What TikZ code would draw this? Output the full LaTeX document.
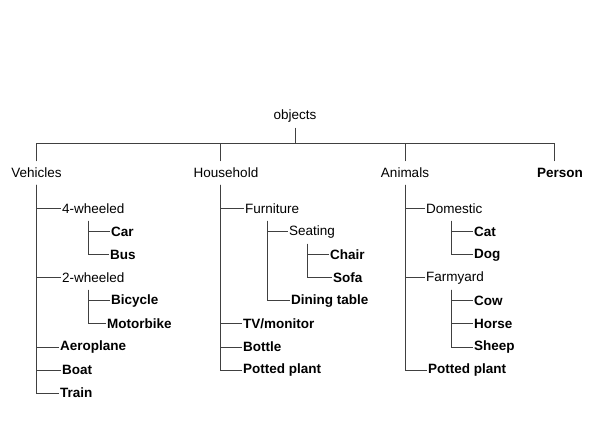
\documentclass[tikz,border=0pt]{standalone}
\usepackage{fontspec}
\setmainfont{Liberation Sans}
\usetikzlibrary{positioning}

\begin{document}
\begin{tikzpicture}[x=1pt, y=-1pt,
          every node/.style={font=\fontsize{13.5}{16}\selectfont, inner sep=1pt,
                             minimum height=23pt},
          grp/.style={anchor=west},
          leaf/.style={anchor=west, font=\fontsize{13.5}{16}\selectfont\bfseries},
          link/.style={draw=black!75, line width=1pt}]
        \useasboundingbox (0,0) rectangle (598,425);
        % top level
        \node (obj) at (295,116) {objects};
        \node (veh) at (36.5,173) {Vehicles};
        \node (hh)  at (226,173) {Household};
        \node (ani) at (405,173) {Animals};
        \node[font=\fontsize{13.5}{16}\selectfont\bfseries] (per) at (560,173) {Person};
        \coordinate (bar) at (295,144);
        \draw[link] (obj.south) -- (bar);
        \draw[link] (veh.north) |- (bar);
        \draw[link] ([xshift=-6pt]per.north) |- (bar);
        \draw[link] ([xshift=-6pt]hh.north) -- ([xshift=-6pt]hh.north |- bar);
        \draw[link] (ani.north) -- (ani.north |- bar);
        % vehicles
        \node[grp]  (fourw) at (61,209)  {4-wheeled};
        \node[leaf] (car)   at (110,232) {Car};
        \node[leaf] (bus)   at (109,255) {Bus};
        \node[grp]  (twow)  at (61,278)  {2-wheeled};
        \node[leaf] (bic)   at (110,301) {Bicycle};
        \node[leaf] (moto)  at (106,324) {Motorbike};
        \node[leaf] (aero)  at (59,347)  {Aeroplane};
        \node[leaf] (boat)  at (61,370)  {Boat};
        \node[leaf] (train) at (59,393)  {Train};
        \foreach \n in {fourw,twow,aero,boat,train}
          \draw[link] (veh.south) |- (\n.west);
        \foreach \n in {car,bus}
          \draw[link] ([xshift=27pt]fourw.south west) |- (\n.west);
        \foreach \n in {bic,moto}
          \draw[link] ([xshift=27pt]twow.south west) |- (\n.west);
        % household
        \node[grp]  (furn)   at (244,209) {Furniture};
        \node[grp]  (seat)   at (288,232) {Seating};
        \node[leaf] (chair)  at (329,255) {Chair};
        \node[leaf] (sofa)   at (332,278) {Sofa};
        \node[leaf] (dining) at (290,301) {Dining table};
        \node[leaf] (tv)     at (242,324) {TV/monitor};
        \node[leaf] (bottle) at (242,347) {Bottle};
        \node[leaf] (plant)  at (242,370) {Potted plant};
        \foreach \n in {furn,tv,bottle,plant}
          \draw[link] ([xshift=-6pt]hh.south) |- (\n.west);
        \foreach \n in {seat,dining}
          \draw[link] ([xshift=23pt]furn.south west) |- (\n.west);
        \foreach \n in {chair,sofa}
          \draw[link] ([xshift=19pt]seat.south west) |- (\n.west);
        % animals
        \node[grp]  (dom)    at (425,209) {Domestic};
        \node[leaf] (cat)    at (473,232) {Cat};
        \node[leaf] (dog)    at (473,255) {Dog};
        \node[grp]  (farm)   at (425,278) {Farmyard};
        \node[leaf] (cow)    at (473,301) {Cow};
        \node[leaf] (horse)  at (473,324) {Horse};
        \node[leaf] (sheep)  at (473,347) {Sheep};
        \node[leaf] (plant2) at (427,370) {Potted plant};
        \foreach \n in {dom,farm,plant2}
          \draw[link] (ani.south) |- (\n.west);
        \foreach \n in {cat,dog}
          \draw[link] ([xshift=26pt]dom.south west) |- (\n.west);
        \foreach \n in {cow,horse,sheep}
          \draw[link] ([xshift=26pt]farm.south west) |- (\n.west);
      \end{tikzpicture}
\end{document}
